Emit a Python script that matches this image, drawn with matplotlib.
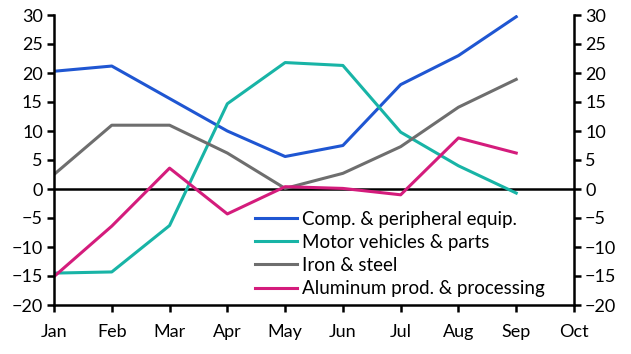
import matplotlib
matplotlib.use('Agg')
import matplotlib.pyplot as plt

months = ['Jan', 'Feb', 'Mar', 'Apr', 'May', 'Jun', 'Jul', 'Aug', 'Sep', 'Oct']
labels = ['Comp. & peripheral equip.', 'Motor vehicles & parts',
          'Iron & steel', 'Aluminum prod. & processing']
comp = [20.3, 21.2, 15.6, 10.0, 5.6, 7.5, 18.0, 23.0, 29.7]
motor = [-14.5, -14.3, -6.3, 14.7, 21.8, 21.3, 9.8, 4.0, -0.7]
iron = [2.5, 11.0, 11.0, 6.2, 0.1, 2.7, 7.3, 14.1, 18.9]
alum = [-15.1, -6.4, 3.6, -4.3, 0.4, 0.1, -1.0, 8.8, 6.2]
series = [comp, motor, iron, alum]
colors = ['#1f56d2', '#18b4a6', '#6e6e6e', '#d41c7c']

plt.rcParams['font.family'] = ['Lato', 'DejaVu Sans']
plt.rcParams['font.size'] = 13

fig = plt.figure(figsize=(6.31, 3.54), dpi=100)
ax = fig.add_axes([54 / 631, 1 - 305 / 354, (574 - 54) / 631, 290 / 354])

x = list(range(len(months)))
for vals, lab, col in zip(series, labels, colors):
    ax.plot(x[:len(vals)], vals, color=col, linewidth=2.2, label=lab)

ax.axhline(0, color='black', linewidth=1.8, zorder=1)
ax.set_xlim(0, 9)
ax.set_ylim(-20, 30)
ax.set_xticks(x)
ax.set_xticklabels(months)
ax.set_yticks(range(-20, 31, 5))

ax.spines['top'].set_visible(False)
for s in ['left', 'right', 'bottom']:
    ax.spines[s].set_linewidth(1.8)
ax.tick_params(axis='both', direction='out', width=1.8, length=5, colors='black')
ax.tick_params(axis='x', pad=9)
ax.tick_params(axis='y', right=True, labelright=True, pad=3)

ax.legend(loc='lower left', bbox_to_anchor=(0.362, -0.018), frameon=False,
          handlelength=2.2, handletextpad=0.3, labelspacing=0.33,
          borderaxespad=0.3, fontsize=13.5)

fig.savefig('out.png', dpi=100)
